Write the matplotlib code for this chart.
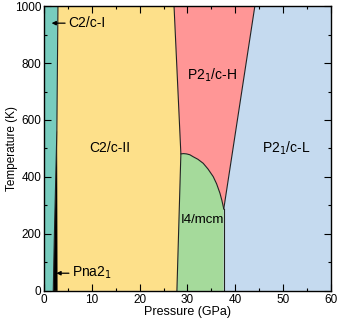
import numpy as np
import matplotlib as mpl
mpl.use('Agg')
import matplotlib.pyplot as plt

plt.rcParams['font.family'] = ['Liberation Sans', 'DejaVu Sans']

# phase boundaries (P in GPa, T in K)
t_I = [0, 179, 560, 1000]
p_I = [1.95, 2.16, 2.70, 2.93]          # C2/c-I | Pna2_1 / C2/c-II
t_pna = [0, 560]
p_pna = [2.85, 2.75]                    # Pna2_1 | C2/c-II
t_II = [0, 481, 1000]
p_II = [27.8, 28.63, 27.2]              # C2/c-II | I4/mcm, P21/c-H
p_dome = [28.63, 29.2, 29.8, 30.5, 31.2, 32.2, 33.3, 34.3, 35.4, 36.1, 36.8, 37.2, 37.6]
t_dome = [481, 482, 481, 478, 471, 462, 448, 428, 401, 376, 343, 318, 288]  # I4/mcm | P21/c-H
t_HL = [288, 1000]
p_HL = [37.6, 44.1]                     # P21/c-H | P21/c-L
t_IL = [0, 288]
p_IL = [37.6, 37.6]                     # I4/mcm | P21/c-L

pmax, tmax = 60, 1000

c_teal = '#78ccbe'
c_yel = '#fde08a'
c_red = '#ff9696'
c_grn = '#a5da9b'
c_blu = '#c5daef'

fig = plt.figure(figsize=(3.38, 3.2), dpi=100)
fig.subplots_adjust(left=0.130, right=0.979, bottom=0.091, top=0.981)
ax = fig.add_subplot(1, 1, 1)

# C2/c-I
ax.fill(np.r_[0, p_I, 0], np.r_[0, t_I, tmax], color=c_teal, lw=0)
# C2/c-II
ax.fill(np.r_[p_I, p_II[::-1]], np.r_[t_I, t_II[::-1]], color=c_yel, lw=0)
# I4/mcm
ax.fill(np.r_[p_II[0], p_dome, p_IL[0]], np.r_[0, t_dome, 0], color=c_grn, lw=0)
# P21/c-H
ax.fill(np.r_[p_II[1:], p_HL[::-1], p_dome[::-1]],
        np.r_[t_II[1:], t_HL[::-1], t_dome[::-1]], color=c_red, lw=0)
# P21/c-L
ax.fill(np.r_[p_IL, p_HL[1], pmax, pmax], np.r_[t_IL, t_HL[1], tmax, 0], color=c_blu, lw=0)
# Pna2_1 wedge
ax.fill(np.r_[p_I[:3], p_pna[::-1]], np.r_[t_I[:3], t_pna[::-1]], color='black', lw=0)

lc = '#222222'
for px, ty in [(p_I, t_I), (p_II, t_II), (p_dome, t_dome), (p_HL, t_HL), (p_IL, t_IL)]:
    ax.plot(px, ty, color=lc, lw=0.8)

fs = 10
ax.text(13.8, 502, 'C2/c-II', fontsize=fs, ha='center', va='center')
ax.text(35.1, 758, r'P2$_1$/c-H', fontsize=fs, ha='center', va='center')
ax.text(50.6, 502, r'P2$_1$/c-L', fontsize=fs, ha='center', va='center')
ax.text(33.2, 249, 'I4/mcm', fontsize=9.5, ha='center', va='center')
ax.annotate('C2/c-I', xy=(1.6, 940), xytext=(5.0, 940), fontsize=fs, va='center',
            arrowprops=dict(arrowstyle='-|>', color='black', lw=0.9, mutation_scale=6,
                            shrinkA=0, shrinkB=0))
ax.annotate(r'Pna2$_1$', xy=(2.6, 62), xytext=(5.8, 62), fontsize=fs, va='center',
            arrowprops=dict(arrowstyle='-|>', color='black', lw=0.9, mutation_scale=6,
                            shrinkA=0, shrinkB=0))

ax.set_xlim(0, pmax)
ax.set_ylim(0, tmax)
ax.set_xlabel('Pressure (GPa)', fontsize=9, labelpad=0)
ax.set_ylabel('Temperature (K)', fontsize=8.5)
ax.yaxis.set_label_coords(-0.092, 0.5)
ax.xaxis.set_major_locator(mpl.ticker.MultipleLocator(10))
ax.xaxis.set_minor_locator(mpl.ticker.MultipleLocator(5))
ax.yaxis.set_major_locator(mpl.ticker.MultipleLocator(200))
ax.yaxis.set_minor_locator(mpl.ticker.MultipleLocator(100))
ax.tick_params(which='both', direction='in', top=True, right=True, labelsize=8.5, width=0.8)
ax.tick_params(which='major', length=5, pad=2)
ax.tick_params(which='minor', length=2.5)
for s in ax.spines.values():
    s.set_linewidth(1.0)

fig.savefig('out.png', dpi=100)
